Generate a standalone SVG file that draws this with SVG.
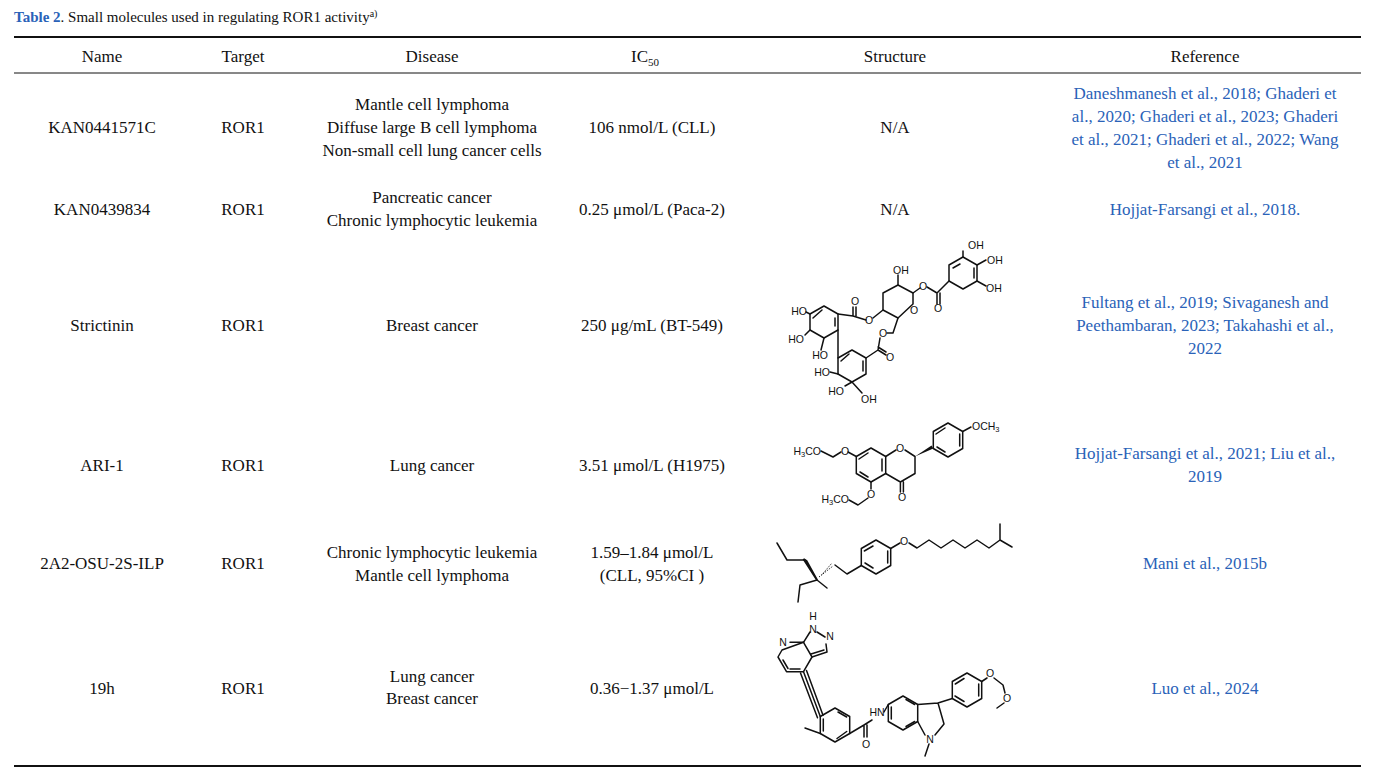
<svg xmlns="http://www.w3.org/2000/svg" width="1388" height="772" viewBox="0 0 1388 772">
<style>
.t{font-family:"Liberation Serif","DejaVu Serif",serif;font-size:17px;fill:#111;text-anchor:middle}
.r{font-family:"Liberation Serif","DejaVu Serif",serif;font-size:17px;fill:#2a62b8;text-anchor:middle}
.b{fill:none;stroke:#111;stroke-width:1.5;stroke-linejoin:round;stroke-linecap:round}
.a{font-family:"Liberation Sans",Arial,sans-serif;font-size:10.5px;fill:#111}
.e{text-anchor:end}
.m{text-anchor:middle}
</style>
<rect width="1388" height="772" fill="#fff"/>
<text x="14" y="22" style="font-family:'Liberation Serif',serif;font-size:15px;fill:#111"><tspan font-weight="bold" fill="#2a62b8">Table 2</tspan>. Small molecules used in regulating ROR1 activity<tspan font-size="10" dy="-5">a)</tspan></text>
<g id="rules" stroke="#111">
<line x1="14" y1="37" x2="1361" y2="37" stroke-width="1.8"/>
<line x1="14" y1="73" x2="1361" y2="73" stroke-width="1"/>
<line x1="14" y1="766" x2="1361" y2="766" stroke-width="1.8"/>
</g>
<g id="header">
<text class="t" x="102" y="62">Name</text>
<text class="t" x="243" y="62">Target</text>
<text class="t" x="432" y="62">Disease</text>
<text class="t" x="645" y="62">IC<tspan font-size="11" dy="4">50</tspan></text>
<text class="t" x="895" y="62">Structure</text>
<text class="t" x="1205" y="62">Reference</text>
</g>
<g id="row1">
<text class="t" x="102" y="133">KAN0441571C</text>
<text class="t" x="243" y="133">ROR1</text>
<text class="t" x="432" y="110">Mantle cell lymphoma</text>
<text class="t" x="432" y="133">Diffuse large B cell lymphoma</text>
<text class="t" x="432" y="156">Non-small cell lung cancer cells</text>
<text class="t" x="652" y="133">106 nmol/L (CLL)</text>
<text class="t" x="895" y="133">N/A</text>
<text class="r" x="1205" y="99">Daneshmanesh et al., 2018; Ghaderi et</text>
<text class="r" x="1205" y="122">al., 2020; Ghaderi et al., 2023; Ghaderi</text>
<text class="r" x="1205" y="145">et al., 2021; Ghaderi et al., 2022; Wang</text>
<text class="r" x="1205" y="168">et al., 2021</text>
</g>
<g id="row2">
<text class="t" x="102" y="215">KAN0439834</text>
<text class="t" x="243" y="215">ROR1</text>
<text class="t" x="432" y="203">Pancreatic cancer</text>
<text class="t" x="432" y="226">Chronic lymphocytic leukemia</text>
<text class="t" x="652" y="215">0.25 μmol/L (Paca-2)</text>
<text class="t" x="895" y="215">N/A</text>
<text class="r" x="1205" y="215">Hojjat-Farsangi et al., 2018.</text>
</g>
<g id="row3">
<text class="t" x="102" y="331">Strictinin</text>
<text class="t" x="243" y="331">ROR1</text>
<text class="t" x="432" y="331">Breast cancer</text>
<text class="t" x="652" y="331">250 μg/mL (BT-549)</text>
<text class="r" x="1205" y="308">Fultang et al., 2019; Sivaganesh and</text>
<text class="r" x="1205" y="331">Peethambaran, 2023; Takahashi et al.,</text>
<text class="r" x="1205" y="354">2022</text>
</g>
<g id="row4">
<text class="t" x="102" y="471">ARI-1</text>
<text class="t" x="243" y="471">ROR1</text>
<text class="t" x="432" y="471">Lung cancer</text>
<text class="t" x="652" y="471">3.51 μmol/L (H1975)</text>
<text class="r" x="1205" y="459">Hojjat-Farsangi et al., 2021; Liu et al.,</text>
<text class="r" x="1205" y="482">2019</text>
</g>
<g id="row5">
<text class="t" x="102" y="569">2A2-OSU-2S-ILP</text>
<text class="t" x="243" y="569">ROR1</text>
<text class="t" x="432" y="558">Chronic lymphocytic leukemia</text>
<text class="t" x="432" y="581">Mantle cell lymphoma</text>
<text class="t" x="652" y="558">1.59–1.84 μmol/L</text>
<text class="t" x="652" y="581">(CLL, 95%CI )</text>
<text class="r" x="1205" y="569">Mani et al., 2015b</text>
</g>
<g id="row6">
<text class="t" x="102" y="694">19h</text>
<text class="t" x="243" y="694">ROR1</text>
<text class="t" x="432" y="682">Lung cancer</text>
<text class="t" x="432" y="704">Breast cancer</text>
<text class="t" x="652" y="694">0.36−1.37 μmol/L</text>
<text class="r" x="1205" y="694">Luo et al., 2024</text>
</g>
<g id="strictinin">
<polygon class="b" points="963,257 977,265 977,281 963,289 949,281 949,265"/>
<polyline class="b" points="953,268 960,264"/><polyline class="b" points="974,268 974,278"/>
<path class="b" d="M963,257V251M977,265L986,260M977,281L986,286M949,281L937,293L927,287M937,293V304M940,293V304M920,288L913,293"/>
<polygon class="b" points="883,293 898,285 913,293 913,304 898,318 883,310"/>
<path class="b" d="M898,285V275M883,310L873,318M866,320L853,316M853,316V307M856,316V307M853,316L838,314"/>
<polygon class="b" points="824,306 838,314 838,330 824,338 810,330 810,314"/>
<path class="b" d="M813,318L822,310M835,318V326M810,314L806,312M810,330L805,335M824,338L821,350"/>
<path class="b" d="M838,330L838,358"/>
<polygon class="b" points="852,350 866,358 866,374 852,382 838,374 838,358"/>
<path class="b" d="M841,361L849,354M863,361V371M866,358L878,350M878,350L886,355M878,347L886,352M878,350L880,338M887,333L893,333L898,318M838,374L830,372M845,386L852,382M852,382L862,393"/>
<text class="a" x="968" y="249">OH</text>
<text class="a" x="987" y="264">OH</text>
<text class="a" x="986" y="292">OH</text>
<text class="a m" x="938" y="312">O</text>
<text class="a m" x="923" y="290">O</text>
<text class="a m" x="914" y="314">O</text>
<text class="a" x="893" y="274">OH</text>
<text class="a m" x="869" y="324">O</text>
<text class="a m" x="855" y="305">O</text>
<text class="a m" x="883" y="337">O</text>
<text class="a m" x="890" y="361">O</text>
<text class="a e" x="807" y="315">HO</text>
<text class="a e" x="804" y="343">HO</text>
<text class="a e" x="828" y="359">HO</text>
<text class="a e" x="830" y="376">HO</text>
<text class="a e" x="844" y="395">HO</text>
<text class="a" x="861" y="403">OH</text>
</g>
<g id="ari1">
<polygon class="b" points="871,448 885.7,456.5 885.7,473.5 871,482 856.3,473.5 856.3,456.5"/>
<path class="b" d="M859,459L868,453M882,459V471M860,472L868,477"/>
<path class="b" d="M885.7,456.5L896,450M905,450L915,456.5L915,473.5L900.4,482L885.7,473.5M900.4,482V492M903.4,482V492"/>
<path d="M915,456.5L933.3,448.5L931.6,445.6Z" fill="#111"/>
<polygon class="b" points="948,423 962.7,431.5 962.7,448.5 948,457 933.3,448.5 933.3,431.5"/>
<path class="b" d="M936,434L945,428M959.7,434V446M937,447L945,452M962.7,431.5L971,427"/>
<path class="b" d="M856.3,456.5L848,452M841,452L833,457L821,451M871,482L871,489M868,498L858,505L849,500"/>
<text class="a m" x="900" y="452">O</text>
<text class="a m" x="902" y="501">O</text>
<text class="a" x="972" y="430">OCH<tspan font-size="7.5" dy="2">3</tspan></text>
<text class="a m" x="845" y="455">O</text>
<text class="a e" x="821" y="455">H<tspan font-size="7.5" dy="2">3</tspan><tspan dy="-2">CO</tspan></text>
<text class="a m" x="871" y="498">O</text>
<text class="a e" x="849" y="503">H<tspan font-size="7.5" dy="2">3</tspan><tspan dy="-2">CO</tspan></text>
</g>
<g id="osu">
<polygon class="b" points="876,540 890.7,548.5 890.7,565.5 876,574 861.3,565.5 861.3,548.5"/>
<path class="b" d="M864.3,551L873,546M887.7,551V563M865,563L873,568"/>
<path class="b" d="M890.7,548.5L900,543M909,543L917,548L929,540L941,548L953,540L965,548L977,540L989,548L1000,540M1000,540V524M1000,540L1012,547"/>
<path class="b" d="M861.3,565.5L847,574L835,565M817,580L800,585L798,602M805,560L787,560L777,543"/>
<path d="M817,580L803.5,559L806.5,561Z" fill="#111" stroke="#111" stroke-width="2"/>
<path class="b" d="M817,580L827,588" />
<path d="M819,577L833,566M822,574.5L832,563" stroke="#111" stroke-width="1" stroke-dasharray="1.2,1.4" fill="none"/>
<text class="a m" x="904" y="545">O</text>
</g>
<g id="h19">
<polygon class="b" points="803.5,642.3 812,657 803.5,671.7 786.5,671.7 778,657 782,650"/>
<path class="b" d="M790,642.3H803.5M783,660L788,668.5M800,669H790"/>
<path class="b" d="M803.5,642.3L810,632M817,632L825,637M826,644L827,652L812,657M824,650L811,654"/>
<path class="b" d="M803.5,671.7L820.3,716.5M800.5,673L817.5,717.7M806.5,670.5L823,715.3"/>
<polygon class="b" points="835,708 849.7,716.5 849.7,733.5 835,742 820.3,733.5 820.3,716.5"/>
<path class="b" d="M838,712L846.7,717M823.3,731V719M837,738.5L846.7,731.5M820.3,733.5L805,728"/>
<path class="b" d="M849.7,733.5L864,725M864,725V737M867,725V737M864,725L872,720M884,712L888.3,704.5"/>
<polygon class="b" points="903,696 917.7,704.5 917.7,721.5 903,730 888.3,721.5 888.3,704.5"/>
<path class="b" d="M891.3,719V707M906,699.5L914.7,704.5M906,726.5L914.7,721.5"/>
<path class="b" d="M917.7,704.5L938,703L944,724L935,735M925,735L917.7,721.5M929,744L925,756M938,703L952.3,698.5"/>
<polygon class="b" points="967,673 981.7,681.5 981.7,698.5 967,707 952.3,698.5 952.3,681.5"/>
<path class="b" d="M955.3,684L964,678.5M978.7,684V696M955,696L964,701.5M981.7,681.5L987,678M994,678L1003,685L1005,693M1004,703L997,708"/>
<text class="a m" x="783" y="646">N</text>
<text class="a m" x="813" y="620">H</text>
<text class="a m" x="813" y="633">N</text>
<text class="a m" x="830" y="640">N</text>
<text class="a m" x="866" y="748">O</text>
<text class="a m" x="877" y="716">HN</text>
<text class="a m" x="930" y="743">N</text>
<text class="a m" x="990" y="677">O</text>
<text class="a m" x="1007" y="702">O</text>
</g>
</svg>
